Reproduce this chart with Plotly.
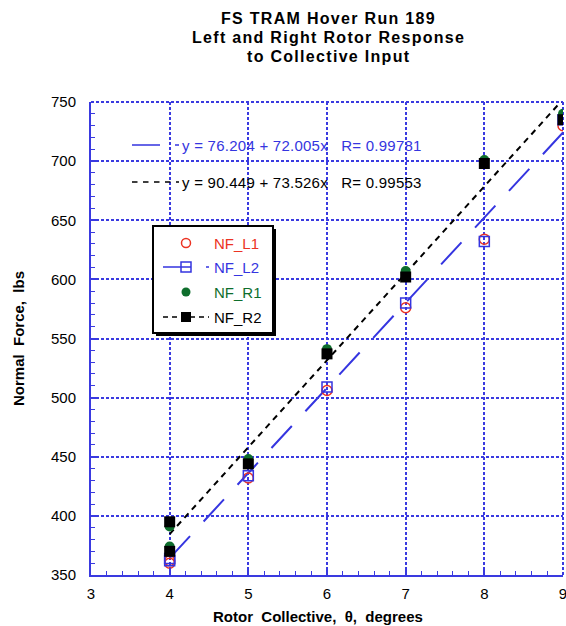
import plotly.graph_objects as go

# Rotor collective setting (deg) for each sample; 4 deg was visited twice
collective = [4, 4, 5, 6, 7, 8, 9]

# Normal force (lbs) measured on each rotor channel
nf_l1 = [360, 362, 432, 506, 576, 634, 730]
nf_l2 = [362, 364, 434, 509, 580, 632, 735]
nf_r1 = [374, 391, 448, 541, 607, 701, 740]
nf_r2 = [370, 395, 444, 537, 602, 698, 735]

# Linear curve fits: intercept, slope, correlation coefficient
fit_l2 = (76.204, 72.005, 0.99781)
fit_r2 = (90.449, 73.526, 0.99553)
fit_span = [4, 9]

x_ticks = [3, 4, 5, 6, 7, 8, 9]
y_ticks = [350, 400, 450, 500, 550, 600, 650, 700, 750]

RED = "#ec3323"
BLUE = "#3535e0"
GREEN = "#0e6e2c"
BLACK = "#000000"
GRID = "#3a3ae0"
FONT = "Liberation Sans, Arial, sans-serif"
GRID_DASH = "3px,2px"

W, H = 566, 626
ML, MR, MT, MB = 91, 3, 102, 51
PW = W - ML - MR
PH = H - MT - MB


def px(x):
    """pixel column -> paper x"""
    return (x - ML) / PW


def py(y):
    """pixel row -> paper y"""
    return (H - MB - y) / PH


def fit_line(fit, xs):
    a, b, _ = fit
    return [a + b * x for x in xs]


fig = go.Figure()

# fitted lines
fig.add_trace(go.Scatter(
    x=fit_span, y=fit_line(fit_l2, fit_span), mode="lines",
    line=dict(color=BLUE, width=2, dash="30px,20px"), showlegend=False))
fig.add_trace(go.Scatter(
    x=fit_span, y=fit_line(fit_r2, fit_span), mode="lines",
    line=dict(color=BLACK, width=2, dash="6px,5px"), showlegend=False))

# measured points
fig.add_trace(go.Scatter(
    x=collective, y=nf_l1, mode="markers", name="NF_L1",
    marker=dict(symbol="circle-open", size=10, color=RED, line=dict(width=1.5, color=RED))))
fig.add_trace(go.Scatter(
    x=collective, y=nf_l2, mode="markers", name="NF_L2",
    marker=dict(symbol="square-open", size=10, color=BLUE, line=dict(width=1.5, color=BLUE))))
fig.add_trace(go.Scatter(
    x=collective, y=nf_r1, mode="markers", name="NF_R1",
    marker=dict(symbol="circle", size=10, color=GREEN, line=dict(width=0))))
fig.add_trace(go.Scatter(
    x=collective, y=nf_r2, mode="markers", name="NF_R2",
    marker=dict(symbol="square", size=11, color=BLACK, line=dict(width=0))))

axis_common = dict(
    showgrid=True, gridcolor=GRID, gridwidth=2, griddash=GRID_DASH,
    showline=True, linecolor=GRID, linewidth=2, mirror=False,
    ticks="inside", ticklen=7, tickwidth=1.5, tickcolor=GRID,
    zeroline=False, tickfont=dict(family=FONT, size=15, color="black"),
    ticklabeloverflow="allow", automargin=False,
)

fig.update_layout(
    width=W, height=H,
    margin=dict(l=ML, r=MR, t=MT, b=MB, pad=0, autoexpand=False),
    paper_bgcolor="white", plot_bgcolor="white",
    showlegend=False,
    font=dict(family=FONT, size=15, color="black"),
    xaxis=dict(range=[3, 9], tickvals=x_ticks, ticktext=[str(v) for v in x_ticks],
               minor=dict(dtick=0.2, tick0=3, ticks="inside", ticklen=4, tickcolor=GRID,
                          tickwidth=1, showgrid=False),
               ticklabelstandoff=4, **axis_common),
    yaxis=dict(range=[350, 750], tickvals=y_ticks, ticktext=[str(v) for v in y_ticks],
               minor=dict(dtick=10, tick0=350, ticks="inside", ticklen=4, tickcolor=GRID,
                          tickwidth=1, showgrid=False),
               ticklabelstandoff=10, **axis_common),
)

shapes = []
annotations = []

# dotted frame along the top and right edges of the plot area
shapes.append(dict(type="line", xref="paper", yref="paper", x0=0, x1=1, y0=1, y1=1,
                   line=dict(color=GRID, width=2, dash=GRID_DASH), layer="below"))
shapes.append(dict(type="line", xref="paper", yref="paper", x0=1, x1=1, y0=0, y1=1,
                   line=dict(color=GRID, width=2, dash=GRID_DASH), layer="below"))

# title
title_lines = ["FS TRAM Hover Run 189", "Left and Right Rotor Response", "to Collective Input"]
for i, line in enumerate(title_lines):
    annotations.append(dict(
        xref="paper", yref="paper", x=px(328), y=py(18 + 19 * i),
        xanchor="center", yanchor="middle", showarrow=False,
        text=f"<b><span style='letter-spacing:1.3px'>{line}</span></b>",
        font=dict(family=FONT, size=16, color="black")))

# axis titles
annotations.append(dict(
    xref="paper", yref="paper", x=px(318), y=py(616), xanchor="center", yanchor="middle",
    showarrow=False, text="<b>Rotor\u00a0\u00a0Collective,\u00a0\u00a0\u03b8,\u00a0\u00a0degrees</b>",
    font=dict(family=FONT, size=15, color="black")))
annotations.append(dict(
    xref="paper", yref="paper", x=px(18), y=py(339), xanchor="center", yanchor="middle",
    textangle=-90, showarrow=False, text="<b>Normal\u00a0\u00a0Force,\u00a0\u00a0lbs</b>",
    font=dict(family=FONT, size=15, color="black")))

# curve-fit equations with line samples
for fit, color, dash, row in [(fit_l2, BLUE, "28px,15px", 145), (fit_r2, BLACK, "5.5px,5.5px", 182)]:
    a, b, r = fit
    shapes.append(dict(type="line", xref="paper", yref="paper",
                       x0=px(132), x1=px(179), y0=py(row), y1=py(row),
                       line=dict(color=color, width=1.5, dash=dash), layer="above"))
    annotations.append(dict(
        xref="paper", yref="paper", x=px(180), y=py(row), xanchor="left", yanchor="middle",
        showarrow=False,
        text=f"<span style='letter-spacing:0.25px'>y = {a:.3f} + {b:.3f}x\u00a0\u00a0\u00a0R= {r:.5f}</span>",
        font=dict(family=FONT, size=15, color=color)))

# legend box with drop shadow
bx0, bx1, by0, by1 = 153, 273, 226, 333
shapes.append(dict(type="rect", xref="paper", yref="paper",
                   x0=px(bx0 + 3), x1=px(bx1 + 3), y0=py(by0 + 3), y1=py(by1 + 3),
                   fillcolor="black", line=dict(width=0), layer="above"))
shapes.append(dict(type="rect", xref="paper", yref="paper",
                   x0=px(bx0), x1=px(bx1), y0=py(by0), y1=py(by1),
                   fillcolor="white", line=dict(color="black", width=2), layer="above"))

legend_rows = [
    ("NF_L1", RED, "circle-open", None, 243),
    ("NF_L2", BLUE, "square-open", "28px,15px", 267),
    ("NF_R1", GREEN, "circle", None, 292),
    ("NF_R2", BLACK, "square", "5px,4px", 317),
]
gx = 186
for name, color, sym, dash, row in legend_rows:
    if dash:
        shapes.append(dict(type="line", xref="paper", yref="paper",
                           x0=px(163), x1=px(209), y0=py(row), y1=py(row),
                           line=dict(color=color, width=1.5, dash=dash), layer="above"))
    half = 4.5 if "circle" in sym else 5
    filled = not sym.endswith("open")
    if filled:
        fill = color
    elif sym == "square-open":
        fill = "rgba(0,0,0,0)"
    else:
        fill = "white"
    shapes.append(dict(
        type="circle" if "circle" in sym else "rect",
        xref="paper", yref="paper", xsizemode="pixel", ysizemode="pixel",
        xanchor=px(gx), yanchor=py(row), x0=-half, x1=half, y0=-half, y1=half,
        fillcolor=fill,
        line=dict(color=color, width=0 if filled else 1.5), layer="above"))
    annotations.append(dict(
        xref="paper", yref="paper", x=px(212), y=py(row), xanchor="left", yanchor="middle",
        showarrow=False, text=name, font=dict(family=FONT, size=15, color=color)))

fig.update_layout(shapes=shapes, annotations=annotations)

fig.write_html("out.html")
